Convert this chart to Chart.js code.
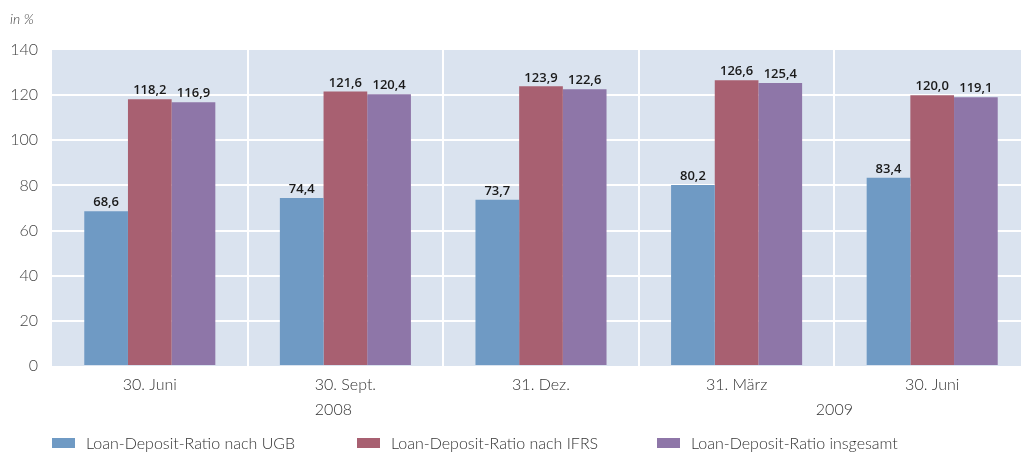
<!DOCTYPE html>
<html>
<head>
<meta charset="utf-8">
<script src="https://cdn.jsdelivr.net/npm/chart.js@4.4.0/dist/chart.umd.min.js"></script>
<style>
  html, body { margin: 0; padding: 0; background: #fff; overflow: hidden; }
  #wrap { position: relative; width: 1021px; height: 455px; overflow: hidden; }
  #wrap canvas { position: absolute; left: 0; top: 0; }
  .unit { position: absolute; left: 10px; top: 10px; font: italic 300 14px Lato, sans-serif; color: #444; }
  .legende { position: absolute; top: 433px; font: 300 16px Lato, sans-serif; color: #333; white-space: nowrap; }
  .legende span { display: inline-block; width: 23px; height: 10px; margin-right: 11px; vertical-align: 1px; }
</style>
</head>
<body>
<div id="wrap">
  <canvas id="chartLDR" width="1030" height="455" style="width:1030px;height:455px"></canvas>
  <div class="unit">in %</div>
  <div id="legende"></div>
</div>
<script>
// Daten
const stichtage = ['30. Juni', '30. Sept.', '31. Dez.', '31. März', '30. Juni'];
const jahre = [
    { label: '2008', von: 0, bis: 2 },
    { label: '2009', von: 3, bis: 4 }
];
const ldrUGB = [68.6, 74.4, 73.7, 80.2, 83.4];
const ldrIFRS = [118.2, 121.6, 123.9, 126.6, 120.0];
const ldrGesamt = [116.9, 120.4, 122.6, 125.4, 119.1];
const yTicks = [0, 20, 40, 60, 80, 100, 120, 140];

const serien = [
    { label: 'Loan-Deposit-Ratio nach UGB', data: ldrUGB, farbe: '#6f9ac4' },
    { label: 'Loan-Deposit-Ratio nach IFRS', data: ldrIFRS, farbe: '#a86071' },
    { label: 'Loan-Deposit-Ratio insgesamt', data: ldrGesamt, farbe: '#8e76a8' }
];

// Hintergrund der Zeichenfläche
const hintergrund = {
    id: 'hintergrund',
    beforeDraw(chart) {
        const a = chart.chartArea;
        const ctx = chart.ctx;
        ctx.save();
        ctx.fillStyle = '#dae3ef';
        ctx.fillRect(a.left, a.top, a.right - a.left, a.bottom - a.top);
        ctx.restore();
    }
};

// Werte über den Balken und Jahreszahlen unter der Achse
const beschriftung = {
    id: 'beschriftung',
    afterDatasetsDraw(chart) {
        const ctx = chart.ctx;
        ctx.save();
        ctx.font = '600 13px "Open Sans", sans-serif';
        ctx.fillStyle = '#1a1a1a';
        ctx.textAlign = 'center';
        ctx.textBaseline = 'bottom';
        chart.data.datasets.forEach(function(ds, i) {
            chart.getDatasetMeta(i).data.forEach(function(bar, j) {
                ctx.fillText(ds.data[j].toFixed(1).replace('.', ','), bar.x, bar.y - 2);
            });
        });
        const x = chart.scales.x;
        ctx.font = '300 16px Lato, sans-serif';
        ctx.fillStyle = '#333';
        ctx.textBaseline = 'middle';
        jahre.forEach(function(j) {
            const mitte = (x.getPixelForValue(j.von) + x.getPixelForValue(j.bis)) / 2;
            ctx.fillText(j.label, mitte - (j.bis - j.von === 2 ? 12 : 0), 410);
        });
        ctx.restore();
    }
};

const ctx = document.getElementById('chartLDR');
new Chart(ctx, {
    type: 'bar',
    data: {
        labels: stichtage,
        datasets: serien.map(function(s) {
            return {
                label: s.label,
                data: s.data,
                backgroundColor: s.farbe,
                borderWidth: 0,
                categoryPercentage: 0.67,
                barPercentage: 1
            };
        })
    },
    options: {
        responsive: false,
        animation: false,
        layout: { padding: { top: 50, right: 0, left: 0, bottom: 0 } },
        scales: {
            x: {
                grid: {
                    offset: true,
                    drawTicks: false,
                    lineWidth: 2,
                    color: function(c) { return c.index === 0 ? 'rgba(0,0,0,0)' : '#ffffff'; }
                },
                border: { display: false },
                ticks: {
                    color: '#333',
                    padding: 9,
                    font: { family: 'Lato', size: 16, weight: '300' }
                },
                afterFit: function(scale) { scale.height = 89; }
            },
            y: {
                min: 0,
                max: 140,
                afterBuildTicks: function(scale) {
                    scale.ticks = yTicks.map(function(v) { return { value: v }; });
                },
                grid: {
                    drawTicks: false,
                    lineWidth: 2,
                    color: function(c) {
                        const v = c.tick ? c.tick.value : 0;
                        return (v === 0 || v === 140) ? 'rgba(0,0,0,0)' : '#ffffff';
                    }
                },
                border: { display: false },
                ticks: {
                    color: '#444',
                    padding: 14,
                    font: { family: 'Lato', size: 16, weight: '300' }
                },
                afterFit: function(scale) { scale.width = 52; }
            }
        },
        plugins: {
            legend: { display: false },
            tooltip: { enabled: false }
        }
    },
    plugins: [hintergrund, beschriftung]
});

// Legende
const legendePos = [52, 357, 657];
const legende = document.getElementById('legende');
serien.forEach(function(s, i) {
    const d = document.createElement('div');
    d.className = 'legende';
    d.style.left = legendePos[i] + 'px';
    d.innerHTML = '<span style="background:' + s.farbe + '"></span>' + s.label;
    legende.appendChild(d);
});
</script>
</body>
</html>
